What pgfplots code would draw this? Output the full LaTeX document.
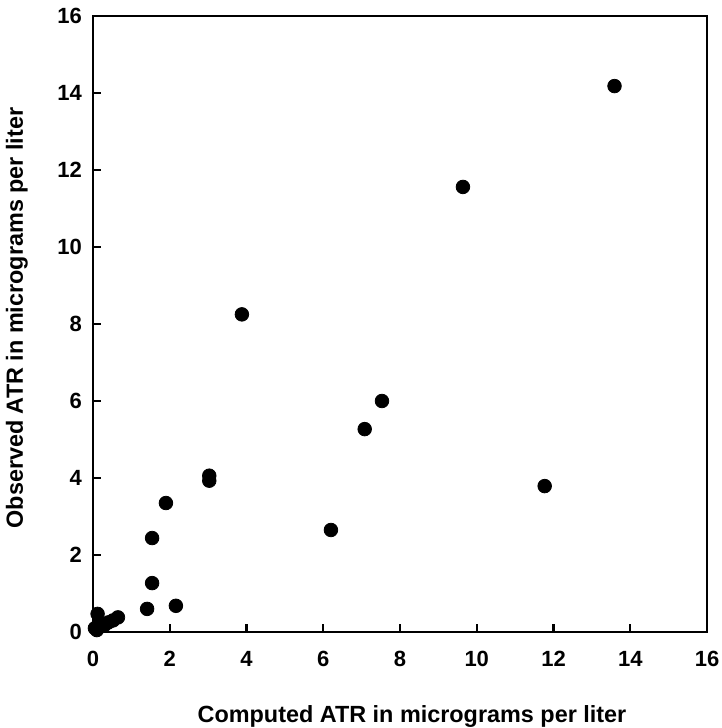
\documentclass[border=0pt]{standalone}
\usepackage{fontspec}
\setmainfont{Liberation Sans}
\usepackage{pgfplots}
\pgfplotsset{compat=1.18}
\begin{document}
\begin{tikzpicture}
\begin{axis}[
  scale only axis,
  width=307pt, height=308pt,
  xmin=0, xmax=16, ymin=0, ymax=16,
  xtick={0,2,...,16}, ytick={0,2,...,16},
  tick align=inside,
  xtick pos=bottom, ytick pos=left,
  major tick length=4pt,
  axis line style={line width=1.4pt},
  every tick/.style={line width=1.2pt, black},
  /pgf/number format/assume math mode=true,
  ticklabel style={font=\fontsize{11}{13}\selectfont\bfseries},
  xticklabel style={yshift=-6pt},
  yticklabel style={xshift=-2pt},
  xlabel={Computed ATR in micrograms per liter},
  ylabel={Observed ATR in micrograms per liter},
  label style={font=\fontsize{11.7}{13}\selectfont\bfseries},
  xlabel style={at={(axis description cs:0.5,0)}, anchor=north, yshift=-33pt, xshift=6pt},
  ylabel style={at={(axis description cs:0,0.5)}, anchor=south, yshift=29pt, xshift=3pt},
]
\addplot[only marks, mark=*, mark size=3.4pt, black] coordinates {
  (13.59,14.18) (9.64,11.56) (3.88,8.25) (7.53,6.0) (7.08,5.27)
  (11.77,3.79) (6.2,2.65) (3.03,4.06) (3.03,3.93) (1.9,3.35)
  (1.54,2.44) (1.54,1.27) (1.41,0.6) (2.16,0.68)
  (0.05,0.1) (0.12,0.47) (0.15,0.2) (0.3,0.18) (0.4,0.25)
  (0.52,0.3) (0.65,0.38) (0.1,0.05)
};
\end{axis}
\pgfresetboundingbox
\path[use as bounding box] ([xshift=-46.5pt,yshift=-48pt]current axis.south west) rectangle ([xshift=7.5pt,yshift=8pt]current axis.north east);
\end{tikzpicture}
\end{document}
